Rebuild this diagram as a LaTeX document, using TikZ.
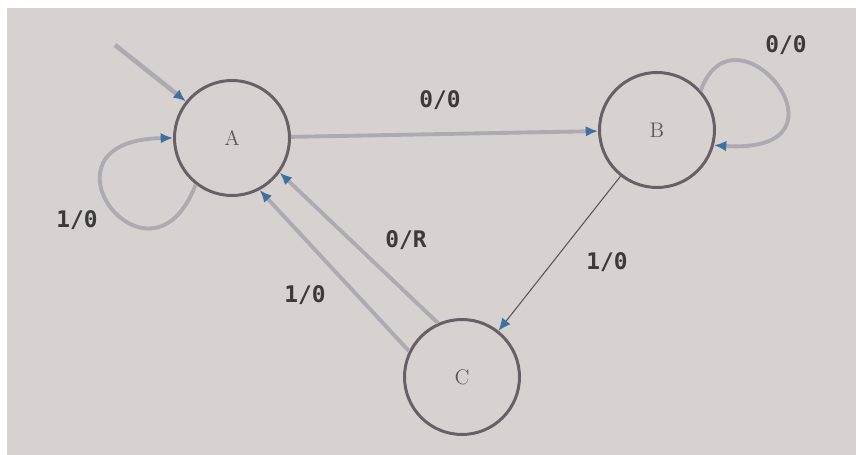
\documentclass[tikz,border=0pt]{standalone}
\usepackage{fontspec}
\usetikzlibrary{arrows.meta}
\newfontfamily\labfont{DejaVu Sans Mono}
\definecolor{paper}{RGB}{215,210,208}
\definecolor{ring}{RGB}{105,96,102}
\definecolor{edgegrey}{RGB}{174,170,178}
\definecolor{edgedark}{RGB}{88,84,90}
\definecolor{tipblue}{RGB}{62,112,160}
\definecolor{inkgrey}{RGB}{62,58,58}
\tikzset{
  statenode/.style={circle,draw=ring,line width=1.7pt,minimum size=2.3cm,inner sep=0pt,
    text=ring!90!black,font=\fontsize{12}{14}\selectfont},
  lab/.style={text=inkgrey,font=\labfont\bfseries\fontsize{13}{15}\selectfont,inner sep=1pt},
  softedge/.style={draw=edgegrey,line width=2.2pt,-{Latex[length=7pt,width=6pt,color=tipblue,fill=tipblue]}},
  thinedge/.style={draw=edgedark,line width=0.6pt,-{Latex[length=7pt,width=6pt,color=tipblue,fill=tipblue]}},
}
\begin{document}
\begin{tikzpicture}[x=0.02cm,y=-0.02cm]
\useasboundingbox (0,0) rectangle (856,455);
\fill[white] (0,0) rectangle (856,455);
\fill[paper] (7,8) rectangle (856,455);

\node[statenode] (A) at (232,138) {A};
\node[statenode] (B) at (657,130) {B};
\node[statenode] (C) at (462,377) {C};

\coordinate (init) at (115,45);
\draw[softedge,line width=2.6pt] (init) -- (A);

% A self loop
\draw[softedge] (A.232) .. controls (150,305) and (25,140) .. (A.180);
\node[lab] (lA) at (77,220) {1/0};

% A -> B
\draw[softedge] (A) -- (B);
\node[lab] (lAB) at (440,100) {0/0};

% B self loop
\draw[softedge] (B.42) .. controls (735,-5) and (865,155) .. (B.-15);
\node[lab] (lB) at (786,45) {0/0};

% B -> C
\draw[thinedge] (B) -- (C);
\node[lab] (lBC) at (607,262) {1/0};

% C -> A (two transitions)
\draw[softedge] (C.114) -- (A.-36);
\node[lab] (lCA1) at (406,240) {0/R};
\draw[softedge] (C.154) -- (A.-62);
\node[lab] (lCA2) at (305,295) {1/0};
\end{tikzpicture}
\end{document}
